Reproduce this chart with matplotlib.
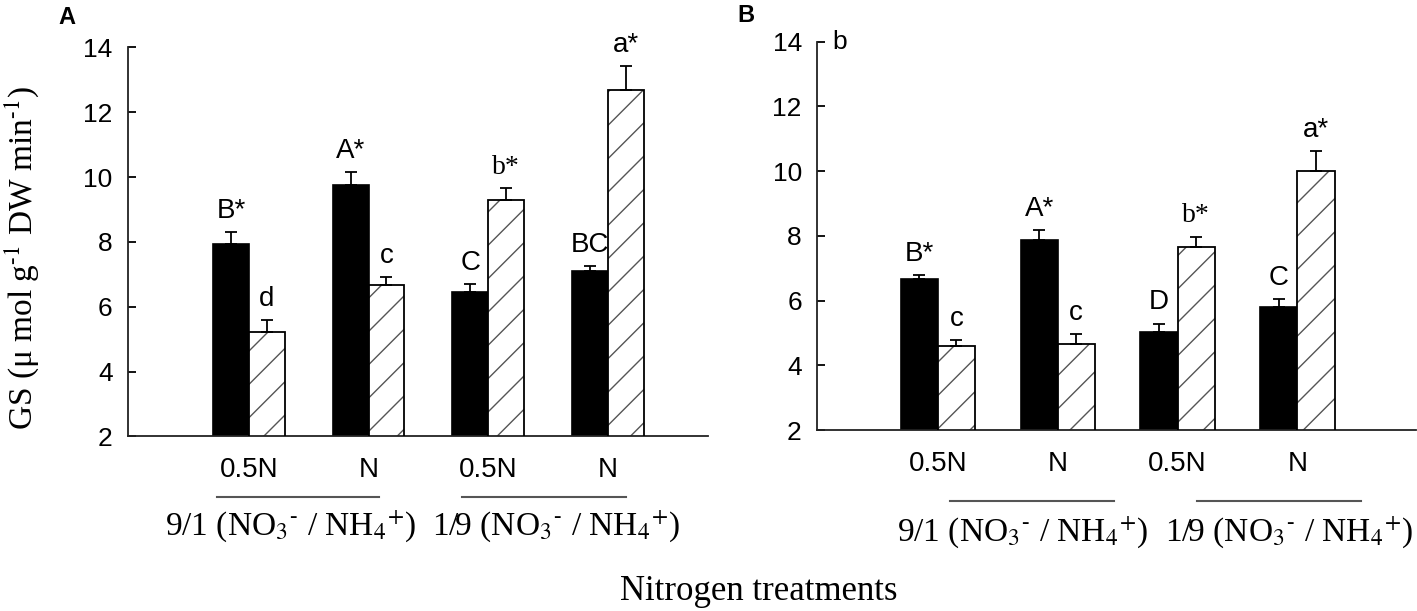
import numpy as np
import matplotlib.pyplot as plt
from matplotlib.transforms import blended_transform_factory

plt.rcParams['font.family'] = ['Liberation Sans', 'DejaVu Sans']
plt.rcParams['mathtext.fontset'] = 'stix'
plt.rcParams['hatch.linewidth'] = 1.0

levels = ['0.5N', 'N', '0.5N', 'N']
groups = [r'9/1 (NO$_3$$^{\text{-}}$ / NH$_4$$^{+}$)',
          r'1/9 (NO$_3$$^{\text{-}}$ / NH$_4$$^{+}$)']

# panel A
a_black = [7.95, 9.75, 6.45, 7.12]
a_black_err = [0.36, 0.40, 0.26, 0.15]
a_hatch = [5.22, 6.66, 9.30, 12.70]
a_hatch_err = [0.36, 0.27, 0.36, 0.72]
a_black_lab = ['B*', 'A*', 'C', 'BC']
a_hatch_lab = ['d', 'c', 'b*', 'a*']

# panel B
b_black = [6.67, 7.86, 5.02, 5.80]
b_black_err = [0.11, 0.32, 0.27, 0.25]
b_hatch = [4.61, 4.66, 7.66, 9.99]
b_hatch_err = [0.16, 0.30, 0.32, 0.62]
b_black_lab = ['B*', 'A*', 'D', 'C']
b_hatch_lab = ['c', 'c', 'b*', 'a*']

yticks = [2, 4, 6, 8, 10, 12, 14]


def panel(ax, black, black_err, hatch, hatch_err, black_lab, hatch_lab,
          w, xlim, cat_y, line_y, grp_y, line_offs, grp_shift):
    x = np.arange(len(black))
    xb = x - w / 2
    xh = x + w / 2
    ax.bar(xb, black, width=w, color='black', edgecolor='black',
           linewidth=1.2, zorder=2)
    ax.bar(xh, hatch, width=w, color='white', edgecolor='#555555',
           hatch='/', linewidth=0, zorder=2)
    ax.bar(xh, hatch, width=w, fill=False, edgecolor='black',
           linewidth=1.3, zorder=3)
    zero = np.zeros(len(black))
    ax.errorbar(xb, black, yerr=[zero, black_err], fmt='none', ecolor='black',
                elinewidth=1.3, capsize=4.3, capthick=1.3, zorder=4)
    ax.errorbar(xh, hatch, yerr=[zero, hatch_err], fmt='none', ecolor='black',
                elinewidth=1.3, capsize=4.3, capthick=1.3, zorder=4)
    pad = 0.25
    for xi, v, e, t in zip(xb, black, black_err, black_lab):
        ax.text(xi, v + e + pad, t, ha='center', va='bottom', fontsize=20,
                clip_on=False)
    for xi, v, e, t in zip(xh, hatch, hatch_err, hatch_lab):
        fam = ['Liberation Serif'] if t == 'b*' else ['Liberation Sans']
        ax.text(xi, v + e + pad, t, ha='center', va='bottom', fontsize=20,
                family=fam, clip_on=False)

    ax.set_xlim(*xlim)
    ax.set_ylim(2, 14)
    ax.set_yticks(yticks)
    ax.set_xticks([])
    for s in ['top', 'right']:
        ax.spines[s].set_visible(False)
    for s in ['left', 'bottom']:
        ax.spines[s].set_linewidth(1.3)
        ax.spines[s].set_color('#222222')
    ax.tick_params(axis='y', direction='in', length=6, width=1.3,
                   labelsize=19, pad=11)

    tr = blended_transform_factory(ax.transData, ax.transAxes)
    for xi, t in zip(x, levels):
        ax.text(xi, cat_y, t, transform=tr, ha='center', va='center',
                fontsize=20)
    for g in range(2):
        x0 = x[2 * g] + line_offs[g][0]
        x1 = x[2 * g + 1] + line_offs[g][1]
        ax.plot([x0, x1], [line_y, line_y], transform=tr, color='#555555',
                lw=1.5, clip_on=False)
        ax.text((x[2 * g] + x[2 * g + 1]) / 2 + grp_shift[g], grp_y, groups[g],
                transform=tr, ha='center', va='center', fontsize=24,
                family=['Liberation Serif'])


fig = plt.figure(figsize=(14.17, 6.11), dpi=100)
axA = fig.add_axes([0.0903, 0.2856, 0.4093, 0.6367])
axB = fig.add_axes([0.5766, 0.2962, 0.4227, 0.6355])

panel(axA, a_black, a_black_err, a_hatch, a_hatch_err, a_black_lab, a_hatch_lab,
      0.30, (-1.012, 3.838), -0.086, -0.156, -0.23,
      [(-0.27, 0.09), (-0.22, 0.15)], [-0.15, 0.07])
panel(axB, b_black, b_black_err, b_hatch, b_hatch_err, b_black_lab, b_hatch_lab,
      0.31, (-1.008, 3.99), -0.087, -0.184, -0.263,
      [(0.10, 0.47), (0.16, 0.53)], [0.21, 0.43])

axB.text(-0.82, 14, 'b', ha='center', va='center', fontsize=19)

fig.text(22 / 1417, 1 - 258 / 611, r'GS (μ mol g$^{\text{-}1}$ DW min$^{\text{-}1}$)',
         rotation=90, ha='center', va='center', fontsize=24,
         family=['Liberation Serif'])
fig.text(759 / 1417, 1 - 592 / 611, 'Nitrogen treatments', ha='center',
         va='center', fontsize=25, family=['Liberation Serif'])
fig.text(67 / 1417, 1 - 17 / 611, 'A', ha='center', va='center', fontsize=17,
         fontweight='bold')
fig.text(746 / 1417, 1 - 16 / 611, 'B', ha='center', va='center', fontsize=17,
         fontweight='bold')

fig.savefig('out.png', dpi=100)
